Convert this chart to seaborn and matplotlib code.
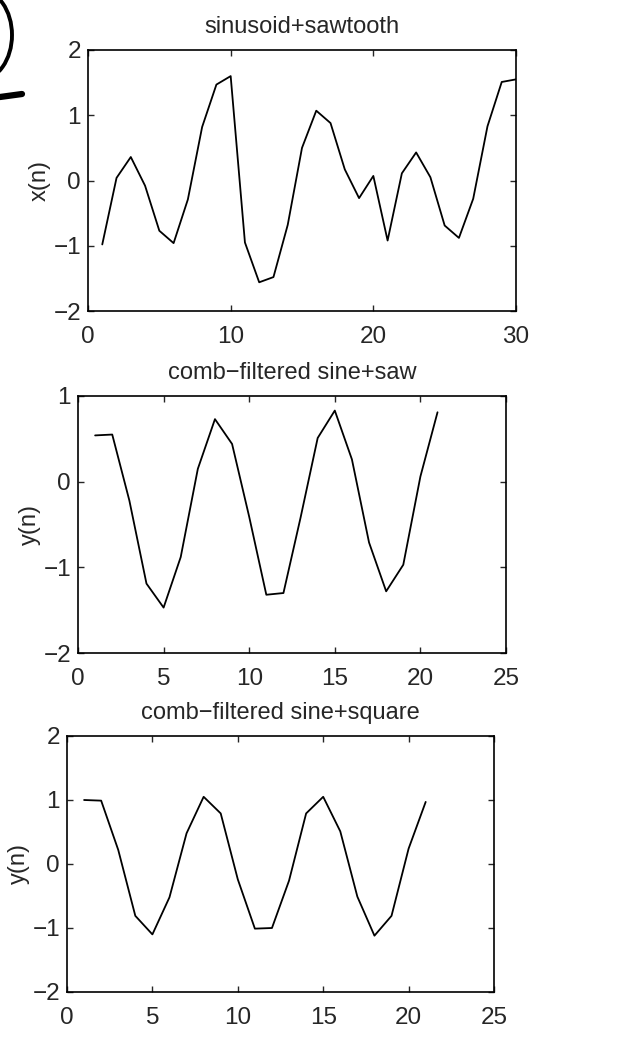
import numpy as np
import pandas as pd
import matplotlib
matplotlib.use('Agg')
import matplotlib.pyplot as plt
from matplotlib.patches import Ellipse
from matplotlib.lines import Line2D
import seaborn as sns

sns.set_style('ticks')
plt.rcParams['font.family'] = ['Liberation Sans', 'DejaVu Sans']

# ------------------------------------------------------------------
# Data
# ------------------------------------------------------------------
n_x = list(range(1, 31))
x_vals = [-0.98, 0.04, 0.36, -0.08, -0.77, -0.96, -0.29, 0.82, 1.47, 1.60,
          -0.95, -1.56, -1.48, -0.68, 0.50, 1.07, 0.88, 0.17, -0.27, 0.07,
          -0.92, 0.11, 0.43, 0.05, -0.69, -0.88, -0.28, 0.83, 1.51, 1.55]

n_y = list(range(1, 22))
y_saw = [0.54, 0.55, -0.22, -1.19, -1.47, -0.88, 0.15, 0.73, 0.44, -0.41,
         -1.32, -1.30, -0.42, 0.51, 0.83, 0.26, -0.71, -1.28, -0.97, 0.06, 0.81]
y_square = [1.00, 0.99, 0.22, -0.81, -1.10, -0.52, 0.48, 1.05, 0.79, -0.24,
            -1.01, -1.00, -0.26, 0.79, 1.05, 0.51, -0.51, -1.12, -0.81, 0.24, 0.97]

panels = [
    dict(n=n_x, v=x_vals, title='sinusoid+sawtooth', ylabel='x(n)',
         xlim=(0, 30), xticks=[0, 10, 20, 30], ylim=(-2, 2), yticks=[-2, -1, 0, 1, 2]),
    dict(n=n_y, v=y_saw, title='comb\u2212filtered sine+saw', ylabel='y(n)',
         xlim=(0, 25), xticks=[0, 5, 10, 15, 20, 25], ylim=(-2, 1), yticks=[-2, -1, 0, 1]),
    dict(n=n_y, v=y_square, title='comb\u2212filtered sine+square', ylabel='y(n)',
         xlim=(0, 25), xticks=[0, 5, 10, 15, 20, 25], ylim=(-2, 2), yticks=[-2, -1, 0, 1, 2]),
]

# axes boxes in figure pixels: left, right, top, bottom
boxes = [(88, 516, 50, 311), (78, 506, 396, 653), (67, 494, 736, 992)]

W, H = 617, 1039
fig = plt.figure(figsize=(W / 100, H / 100), dpi=100)

for p, (l, r, t, b) in zip(panels, boxes):
    ax = fig.add_axes([l / W, 1 - b / H, (r - l) / W, (b - t) / H])
    df = pd.DataFrame({'n': p['n'], 'v': p['v']})
    sns.lineplot(data=df, x='n', y='v', ax=ax, color='black', linewidth=1.3)
    ax.set_xlim(*p['xlim'])
    ax.set_ylim(*p['ylim'])
    ax.set_xticks(p['xticks'])
    ax.set_yticks(p['yticks'])
    ax.set_yticklabels([str(v).replace('-', '\u2212') for v in p['yticks']])
    ax.set_title(p['title'], fontsize=17, pad=12)
    ax.set_xlabel('')
    ax.set_ylabel(p['ylabel'], fontsize=17, labelpad=2)
    ax.tick_params(axis='x', pad=11)
    ax.tick_params(axis='y', pad=5)
    ax.tick_params(direction='in', top=True, right=True, length=4, width=1.0,
                   labelsize=17.5)
    for s in ax.spines.values():
        s.set_visible(True)
        s.set_linewidth(1.2)
        s.set_color('black')

# handwritten mark in the scan's top-left corner
fig.add_artist(Ellipse((-20 / W, 1 - 35 / H), 64 / W, 90 / H,
                       transform=fig.transFigure, fill=False,
                       edgecolor='black', linewidth=2.8))
fig.add_artist(Line2D([0, 22 / W], [1 - 97 / H, 1 - 94 / H],
                      transform=fig.transFigure, color='black', linewidth=4.5))

plt.savefig('out.png', dpi=100)
